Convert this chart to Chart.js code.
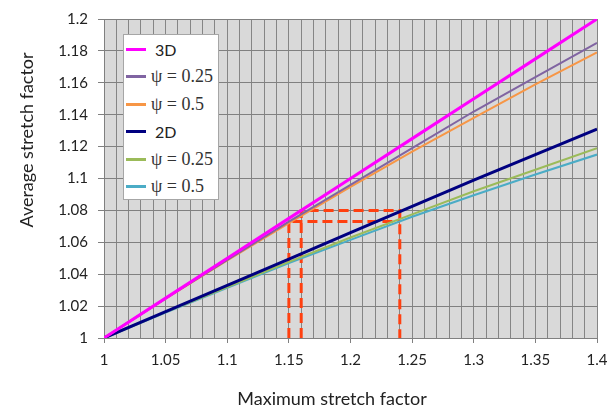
<!DOCTYPE html>
<html>
<head>
<meta charset="utf-8">
<script src="https://cdn.jsdelivr.net/npm/chart.js@4"></script>
<style>
  html, body { margin: 0; padding: 0; background: #fff; }
  #wrap { position: relative; width: 608px; height: 409px; }
  #legend {
    position: absolute; left: 123px; top: 34px; width: 96px; height: 166px;
    background: #fff; border: 1px solid #a6a6a6; box-sizing: border-box;
  }
  .row { position: absolute; left: 2px; height: 20px; display: flex; align-items: center; }
  .sw { width: 20px; height: 3px; margin-right: 5px; }
  .sans { font: 16px Lato, sans-serif; color: #222; margin-left: 4px; }
  .serif { font: 18px "Liberation Serif", "DejaVu Serif", serif; color: #333; }
</style>
</head>
<body>
<div id="wrap">
  <canvas id="chart" width="608" height="409"></canvas>
  <div id="legend"></div>
</div>
<script>
// x values (maximum stretch factor)
const xs = [1, 1.05, 1.1, 1.15, 1.2, 1.25, 1.3, 1.35, 1.4];

// average stretch factor
const s3D      = [1, 1.025, 1.05, 1.075, 1.1, 1.125, 1.15, 1.175, 1.2];
const s3Dpsi25 = [1, 1.0248, 1.049, 1.073, 1.096, 1.119, 1.142, 1.1635, 1.185];
const s3Dpsi50 = [1, 1.0247, 1.0487, 1.072, 1.0948, 1.1168, 1.138, 1.159, 1.179];
const s2D      = [1, 1.0165, 1.033, 1.0495, 1.066, 1.0825, 1.099, 1.115, 1.131];
const s2Dpsi25 = [1, 1.0163, 1.032, 1.0477, 1.063, 1.0775, 1.092, 1.1055, 1.119];
const s2Dpsi50 = [1, 1.016, 1.0315, 1.047, 1.0615, 1.076, 1.0895, 1.1025, 1.115];

// red dashed guides
const guideA = [[1.16, 1.0], [1.16, 1.08], [1.24, 1.08], [1.24, 1.0]];
const guideB = [[1.15, 1.0], [1.15, 1.073], [1.24, 1.073]];

const names = ['3D', 'ψ = 0.25', 'ψ = 0.5', '2D', 'ψ = 0.25', 'ψ = 0.5'];
const colors = ['#ff00ff', '#8064a2', '#f79646', '#000080', '#9bbb59', '#4bacc6'];
const widths = [3, 2, 2, 3, 2, 2];
const series = [s3D, s3Dpsi25, s3Dpsi50, s2D, s2Dpsi25, s2Dpsi50];

const yTicks = [1, 1.02, 1.04, 1.06, 1.08, 1.1, 1.12, 1.14, 1.16, 1.18, 1.2];

const datasets = series.map((s, i) => ({
    label: names[i],
    data: s.map((v, j) => ({x: xs[j], y: v})),
    borderColor: colors[i],
    borderWidth: widths[i],
    pointRadius: 0,
    tension: 0,
    order: i
}));
[guideA, guideB].forEach(g => {
    datasets.push({
        label: 'guide',
        data: g.map(p => ({x: p[0], y: p[1]})),
        borderColor: '#ff4010',
        borderWidth: 3,
        borderDash: [10, 5],
        pointRadius: 0,
        tension: 0,
        order: 10
    });
});

// plot background + axis titles
const bgPlugin = {
    id: 'bg',
    beforeDraw(chart) {
        const {ctx, chartArea: a} = chart;
        ctx.save();
        ctx.fillStyle = '#d9d9d9';
        ctx.fillRect(a.left, a.top, a.right - a.left, a.bottom - a.top);
        ctx.restore();
    },
    afterDraw(chart) {
        const ctx = chart.ctx;
        ctx.save();
        ctx.fillStyle = '#222';
        ctx.font = '18px Lato, sans-serif';
        ctx.textAlign = 'center';
        ctx.textBaseline = 'alphabetic';
        ctx.fillText('Maximum stretch factor', 332, 405);
        ctx.translate(33, 140);
        ctx.rotate(-Math.PI / 2);
        ctx.fillText('Average stretch factor', 0, 0);
        ctx.restore();
    }
};

new Chart(document.getElementById('chart'), {
    type: 'line',
    data: { datasets },
    plugins: [bgPlugin],
    options: {
        responsive: false,
        animation: false,
        layout: { padding: { top: 13, right: 11, left: 0, bottom: 0 } },
        plugins: { legend: { display: false }, tooltip: { enabled: false } },
        scales: {
            x: {
                type: 'linear', min: 1, max: 1.4,
                afterFit(s) { s.height = 71; s.paddingRight = 0; s.paddingLeft = 0; },
                border: { color: '#808080' },
                grid: {
                    color: '#858585', tickLength: 5,
                    tickColor: c => (Math.round(c.tick.value * 100) % 5 === 0 ? '#808080' : 'rgba(0,0,0,0)')
                },
                ticks: {
                    stepSize: 0.01, autoSkip: false, maxRotation: 0, padding: 8,
                    color: '#222', font: { family: 'Lato', size: 15 },
                    callback: v => (Math.round(v * 100) % 5 === 0 ? String(Math.round(v * 100) / 100) : '')
                }
            },
            y: {
                min: 1, max: 1.2,
                afterFit(s) { s.width = 104; },
                afterBuildTicks(s) { s.ticks = yTicks.map(v => ({value: v})); },
                border: { color: '#808080' },
                grid: { color: '#808080', tickLength: 6 },
                ticks: {
                    padding: 10, color: '#222', font: { family: 'Lato', size: 15 },
                    callback: v => String(Math.round(v * 100) / 100)
                }
            }
        }
    }
});

// legend
const leg = document.getElementById('legend');
names.forEach((n, i) => {
    const row = document.createElement('div');
    row.className = 'row';
    row.style.top = (4 + i * 27.5) + 'px';
    const sw = document.createElement('div');
    sw.className = 'sw';
    sw.style.background = colors[i];
    const t = document.createElement('span');
    t.className = n.indexOf('ψ') === 0 ? 'serif' : 'sans';
    t.textContent = n;
    row.appendChild(sw);
    row.appendChild(t);
    leg.appendChild(row);
});
</script>
</body>
</html>
